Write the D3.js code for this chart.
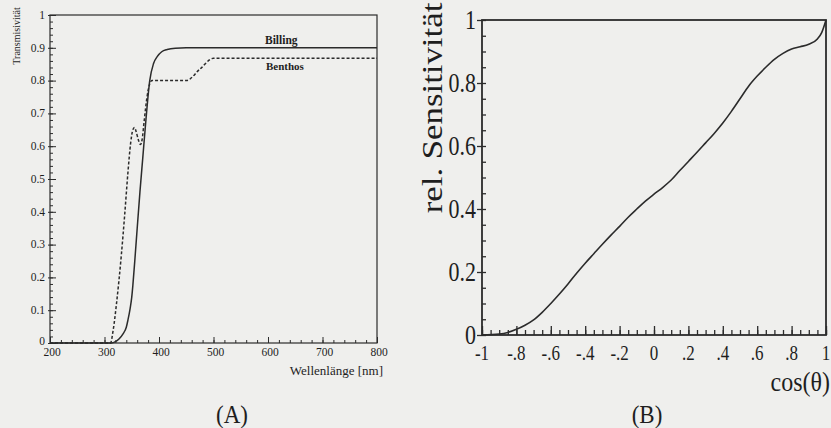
<!DOCTYPE html>
<html lang="de">
	<head>
		<meta charset="utf-8">
		<title>Transmissivität und Sensitivität</title>
		<script type="text/javascript" src="https://d3js.org/d3.v7.min.js"></script>
		<style type="text/css">
			body{margin:0;background:#efefed;}
			svg{display:block;}
			text{font-family:"Liberation Serif","DejaVu Serif",serif;fill:#1e1e1e;}
			.axis path{display:none;}
			.axis line{stroke:#2b2b2b;}
		</style>
	</head>
	<body>
		<div id="chart1"></div>
		<script type="text/javascript">
			// panel A: Transmissivitaet der Glaeser
			var wavelengthBilling = [200, 313, 320, 327, 334, 340, 343, 347, 350, 352, 356, 360, 365, 370, 376, 383, 390, 397, 405, 415, 430, 450, 800]
			var billing = [0, 0, 0.004, 0.013, 0.028, 0.048, 0.07, 0.105, 0.14, 0.175, 0.26, 0.35, 0.46, 0.56, 0.68, 0.80, 0.852, 0.874, 0.888, 0.895, 0.899, 0.9, 0.9]
			var wavelengthBenthos = [200, 311, 316, 322, 331, 337, 343, 348, 352, 355, 358, 362, 366, 369, 373, 378, 383, 387, 450, 475, 500, 800]
			var benthos = [0, 0, 0.04, 0.12, 0.27, 0.39, 0.52, 0.61, 0.65, 0.657, 0.645, 0.62, 0.605, 0.62, 0.68, 0.75, 0.79, 0.80, 0.80, 0.835, 0.868, 0.868]
			var xTicksA = [200, 300, 400, 500, 600, 700, 800]
			var yTicksA = [0, 0.1, 0.2, 0.3, 0.4, 0.5, 0.6, 0.7, 0.8, 0.9, 1]
			var yLabelsA = ["0", "0.1", "0.2", "0.3", "0.4", "0.5", "0.6", "0.7", "0.8", "0.9", "1"]

			// panel B: relative Sensitivitaet gegen cos(theta)
			var cosTheta = [-1, -0.9, -0.85, -0.8, -0.75, -0.7, -0.65, -0.6, -0.55, -0.5, -0.45, -0.4, -0.35, -0.3, -0.25, -0.2, -0.15, -0.1, -0.05, 0, 0.05, 0.1, 0.15, 0.2, 0.25, 0.3, 0.35, 0.4, 0.45, 0.5, 0.55, 0.6, 0.65, 0.7, 0.75, 0.8, 0.85, 0.9, 0.95, 0.975, 1]
			var sensitivity = [0, 0.003, 0.008, 0.018, 0.031, 0.048, 0.072, 0.10, 0.13, 0.162, 0.196, 0.228, 0.258, 0.288, 0.317, 0.345, 0.374, 0.40, 0.425, 0.447, 0.468, 0.492, 0.522, 0.551, 0.58, 0.61, 0.64, 0.673, 0.71, 0.75, 0.79, 0.822, 0.85, 0.875, 0.894, 0.908, 0.915, 0.923, 0.94, 0.96, 1]
			var xTicksB = [-1, -0.8, -0.6, -0.4, -0.2, 0, 0.2, 0.4, 0.6, 0.8, 1]
			var xLabelsB = ["-1", "-.8", "-.6", "-.4", "-.2", "0", ".2", ".4", ".6", ".8", "1"]
			var yTicksB = [0, 0.2, 0.4, 0.6, 0.8, 1]
			var yLabelsB = ["0", "0.2", "0.4", "0.6", "0.8", "1"]

			drawChart()

			function drawChart(){
				var w = 831
				var h = 428
				var ink = "#2b2b2b"
				var svg = d3.select("#chart1")
							.append("svg")
							.attr("width", w)
							.attr("height", h)

				svg.append("rect").attr("width", w).attr("height", h).attr("fill", "#efefed")

				// ---------- panel A ----------
				var xA = d3.scaleLinear().domain([200, 800]).range([50, 377])
				var yA = d3.scaleLinear().domain([0, 1]).range([343, 15])
				var gA = svg.append("g")

				// minor + major ticks, pointing inwards (majors on y cross the axis)
				gA.append("g").attr("class", "axis").attr("transform", "translate(0,343)")
					.call(d3.axisBottom(xA).tickValues(d3.range(200, 801, 20)).tickSize(-3).tickFormat(""))
				gA.append("g").attr("class", "axis").attr("transform", "translate(0,343)")
					.call(d3.axisBottom(xA).tickValues(xTicksA).tickSize(-6).tickFormat(""))
				gA.append("g").attr("class", "axis").attr("transform", "translate(50,0)")
					.call(d3.axisLeft(yA).tickValues(d3.range(0, 1.001, 0.02)).tickSize(-3).tickFormat(""))
				gA.append("g").attr("class", "axis").attr("transform", "translate(50,0)")
					.call(d3.axisLeft(yA).tickValues(yTicksA).tickSize(-6).tickFormat(""))
				gA.append("g").attr("class", "axis").attr("transform", "translate(50,0)")
					.call(d3.axisLeft(yA).tickValues(yTicksA).tickSize(2).tickFormat(""))

				gA.append("rect")
					.attr("x", xA(200)).attr("y", yA(1))
					.attr("width", xA(800) - xA(200)).attr("height", yA(0) - yA(1))
					.attr("fill", "none").attr("stroke", ink).attr("stroke-width", 1.2)

				var lineBilling = d3.line()
					.x(function(d, i){ return xA(wavelengthBilling[i]) })
					.y(function(d){ return yA(d) })
					.curve(d3.curveMonotoneX)
				var lineBenthos = d3.line()
					.x(function(d, i){ return xA(wavelengthBenthos[i]) })
					.y(function(d){ return yA(d) })
					.curve(d3.curveMonotoneX)

				gA.append("path").attr("d", lineBilling(billing))
					.attr("fill", "none").attr("stroke", ink).attr("stroke-width", 1.5)
				gA.append("path").attr("d", lineBenthos(benthos))
					.attr("fill", "none").attr("stroke", ink).attr("stroke-width", 1.5)
					.attr("stroke-dasharray", "3,2")

				gA.selectAll(".ylabA").data(yTicksA).enter().append("text")
					.attr("x", 45).attr("y", function(d){ return yA(d) - (d === 0 ? 2 : 0) }).attr("dy", "0.33em")
					.attr("text-anchor", "end").attr("font-size", "11.5px")
					.text(function(d, i){ return yLabelsA[i] })
				gA.selectAll(".xlabA").data(xTicksA).enter().append("text")
					.attr("x", function(d){ return xA(d) + 2 }).attr("y", 356)
					.attr("text-anchor", "middle").attr("font-size", "11.5px")
					.text(function(d){ return d })

				gA.append("text").attr("x", 383).attr("y", 375).attr("text-anchor", "end")
					.attr("font-size", "13px").text("Wellenlänge [nm]")
				gA.append("text").attr("transform", "translate(20,36) rotate(-90)")
					.attr("text-anchor", "middle").attr("font-size", "10px").text("Transmisivität")
				gA.append("text").attr("x", 265).attr("y", 44).attr("font-size", "11.5px")
					.attr("font-weight", "bold").text("Billing")
				gA.append("text").attr("x", 266).attr("y", 70).attr("font-size", "11px")
					.attr("font-weight", "bold").text("Benthos")
				gA.append("text").attr("transform", "translate(232,423) scale(1,1.1)")
					.attr("text-anchor", "middle").attr("font-size", "23px").text("(A)")

				// ---------- panel B ----------
				var xB = d3.scaleLinear().domain([-1, 1]).range([482, 826])
				var yB = d3.scaleLinear().domain([0, 1]).range([335, 20])
				var gB = svg.append("g")

				gB.append("g").attr("class", "axis").attr("transform", "translate(0,335)")
					.call(d3.axisBottom(xB).tickValues(d3.range(-1, 1.001, 0.05)).tickSize(-5).tickFormat(""))
				gB.append("g").attr("class", "axis").attr("transform", "translate(0,335)")
					.call(d3.axisBottom(xB).tickValues(xTicksB).tickSize(-9).tickFormat(""))
				gB.append("g").attr("class", "axis").attr("transform", "translate(482,0)")
					.call(d3.axisLeft(yB).tickValues(d3.range(0, 1.001, 0.05)).tickSize(-4).tickFormat(""))
				gB.append("g").attr("class", "axis").attr("transform", "translate(482,0)")
					.call(d3.axisLeft(yB).tickValues(yTicksB).tickSize(5).tickFormat(""))
				gB.selectAll(".axis line").attr("stroke-width", 1.3)

				gB.append("rect")
					.attr("x", xB(-1)).attr("y", yB(1))
					.attr("width", xB(1) - xB(-1)).attr("height", yB(0) - yB(1))
					.attr("fill", "none").attr("stroke", ink).attr("stroke-width", 1.8)

				var lineSens = d3.line()
					.x(function(d, i){ return xB(cosTheta[i]) })
					.y(function(d){ return yB(d) })
					.curve(d3.curveMonotoneX)
				gB.append("path").attr("d", lineSens(sensitivity))
					.attr("fill", "none").attr("stroke", ink).attr("stroke-width", 1.6)

				// the scan of panel B is stretched vertically, so are its texts
				gB.selectAll(".ylabB").data(yTicksB).enter().append("text")
					.attr("transform", function(d){ return "translate(476," + yB(d) + ") scale(1,1.2)" })
					.attr("dy", "0.34em").attr("text-anchor", "end").attr("font-size", "22px")
					.text(function(d, i){ return yLabelsB[i] })
				gB.selectAll(".xlabB").data(xTicksB).enter().append("text")
					.attr("transform", function(d){ return "translate(" + xB(d) + ",360) scale(1,1.2)" })
					.attr("text-anchor", "middle").attr("font-size", "17px")
					.text(function(d, i){ return xLabelsB[i] })

				gB.append("text").attr("transform", "translate(830,391) scale(1,1.15)")
					.attr("text-anchor", "end").attr("font-size", "24px").text("cos(θ)")
				gB.append("text").attr("transform", "translate(442,108) rotate(-90) scale(1.2,1)")
					.attr("text-anchor", "middle").attr("font-size", "29px").text("rel. Sensitivität")
				gB.append("text").attr("transform", "translate(647,423) scale(1,1.1)")
					.attr("text-anchor", "middle").attr("font-size", "23px").text("(B)")
			}
		</script>
	</body>
</html>
